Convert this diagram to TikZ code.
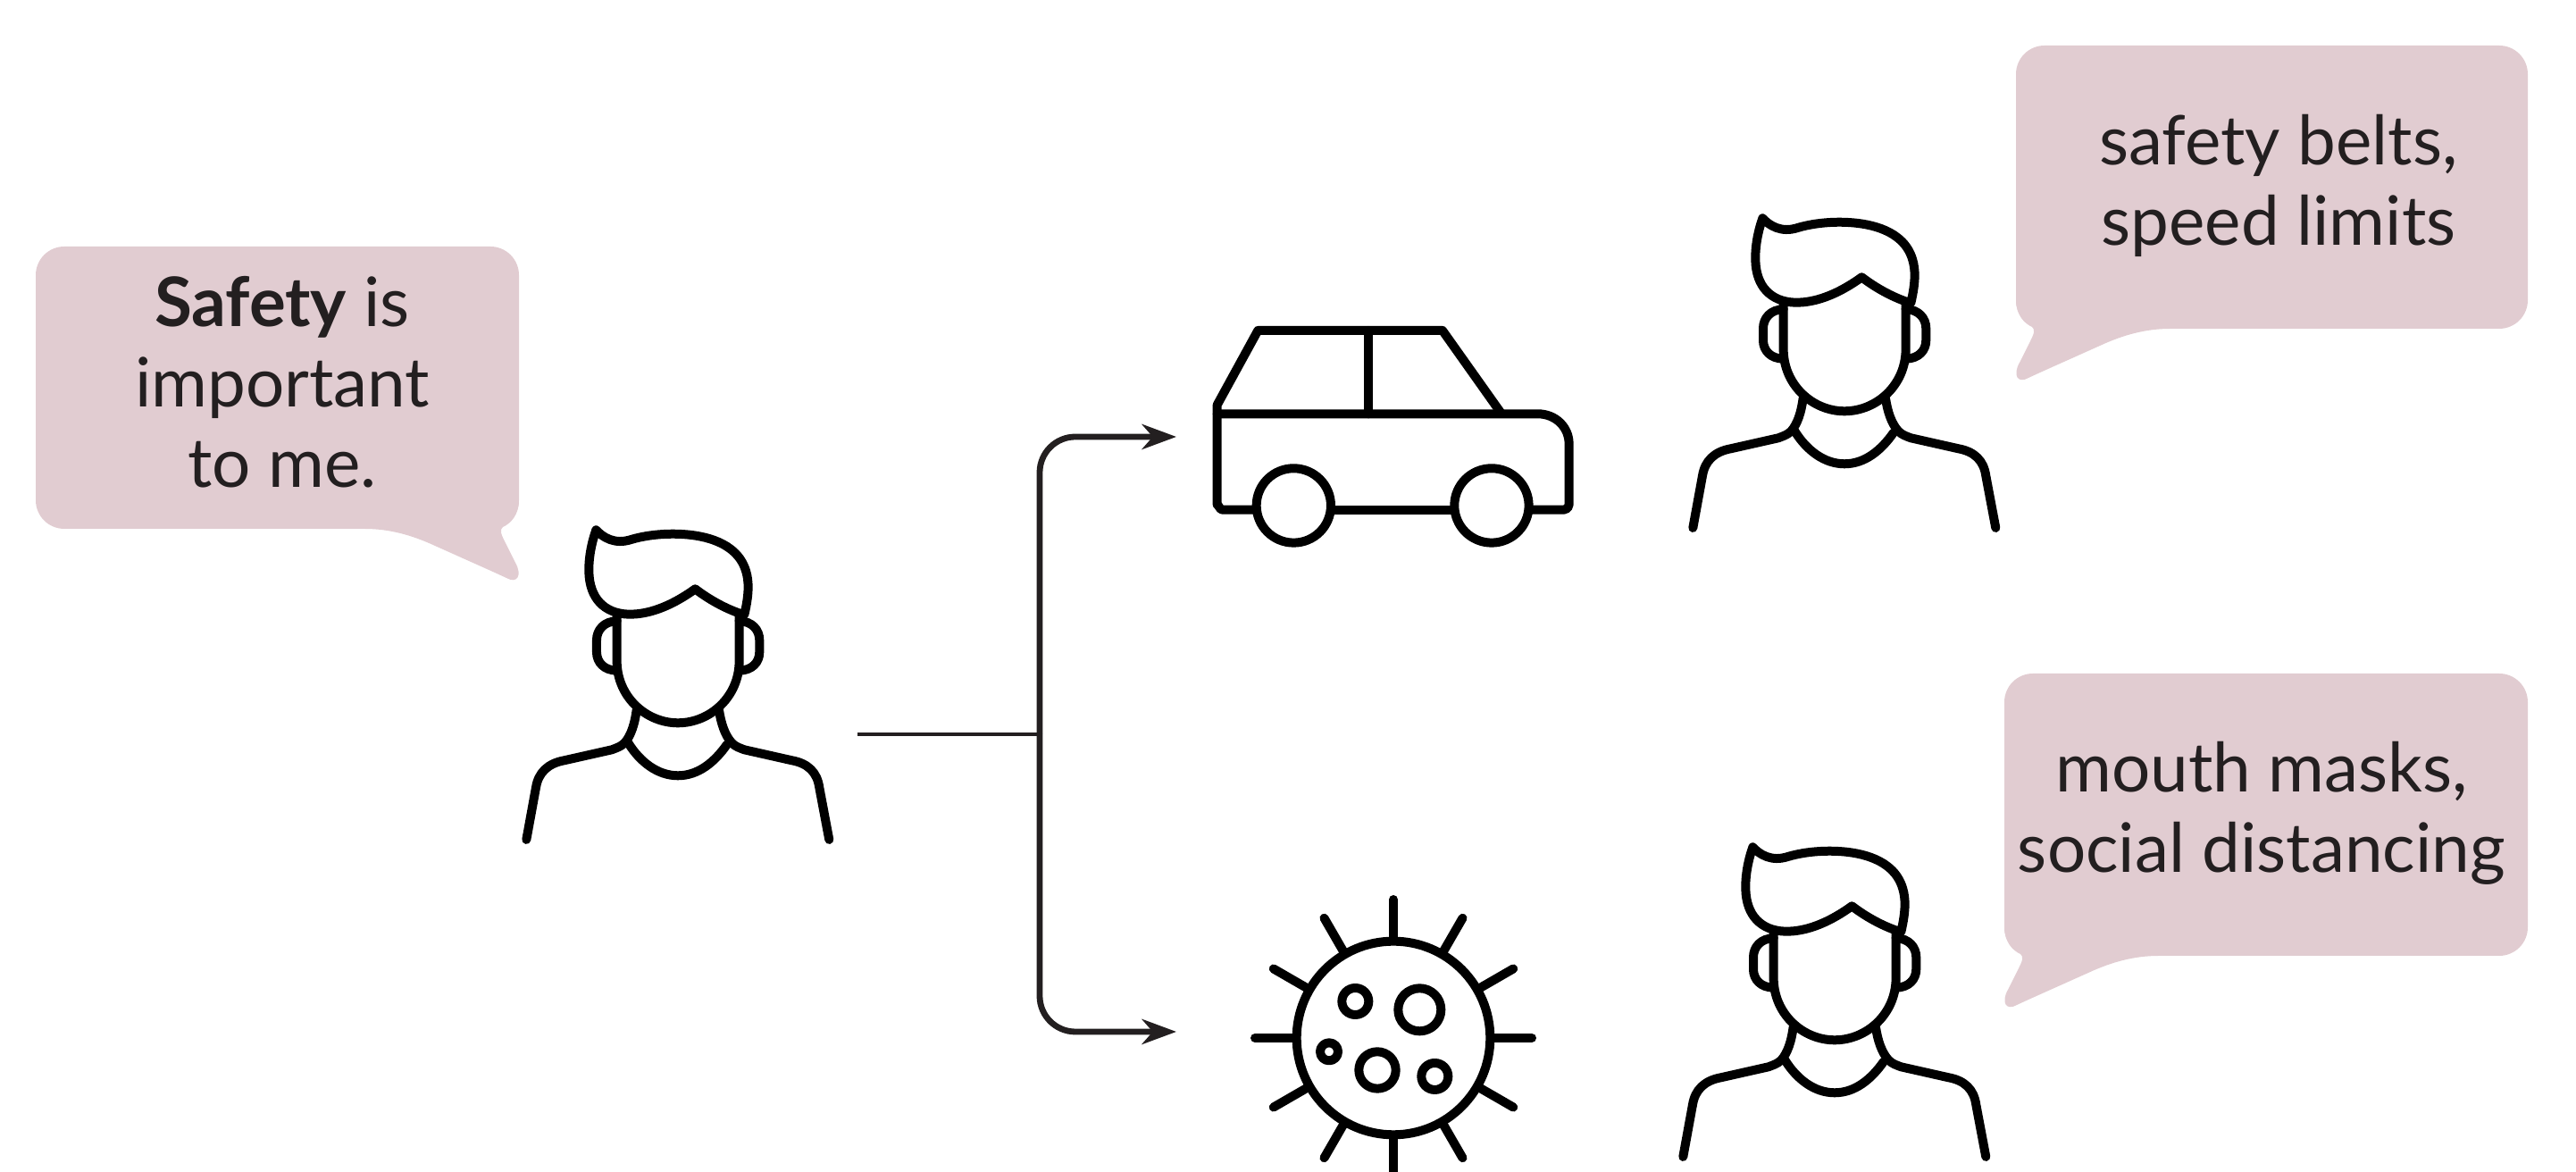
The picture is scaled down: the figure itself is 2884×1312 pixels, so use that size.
\documentclass[tikz,border=0pt]{standalone}
\usepackage{fontspec}
\setmainfont{Lato}
\usetikzlibrary{arrows.meta}
\definecolor{SayPink}{RGB}{225,204,209}
\definecolor{InkDark}{RGB}{35,31,32}
\tikzset{
  %% bubbles and their text
  saybox/.style={fill=SayPink,rounded corners=8pt},
  saytail/.style={fill=SayPink},
  saytext/.style={text=InkDark,font=\fontsize{19.1}{22.5}\selectfont,align=center,inner sep=0pt},
  %% icons
  iconline/.style={draw=black,line width=2.5pt,line cap=round,line join=round},
  %% arrows
  forkline/.style={draw=InkDark,line width=1.1pt},
  forkarr/.style={-{Stealth[length=9.6pt,width=7pt,inset=3pt]},draw=InkDark,
                  line width=1.7pt,rounded corners=10pt},
  person/.pic={
    \begin{scope}[scale=0.3333]
      %% hair
      \draw[iconline] (322,100) .. controls (345,125) and (385,150) .. (440,132)
        .. controls (520,108) and (640,105) .. (720,135)
        .. controls (800,165) and (832,220) .. (833,290)
        .. controls (833,320) and (828,350) .. (820,385)
        .. controls (770,370) and (710,340) .. (655,298)
        .. controls (590,345) and (510,385) .. (430,383)
        .. controls (350,380) and (300,330) .. (298,240)
        .. controls (297,190) and (308,140) .. (322,100) -- cycle;
      %% face
      \draw[iconline] (392,385) -- (392,540) .. controls (392,660) and (490,748) .. (597,748)
        .. controls (705,748) and (803,660) .. (803,540) -- (803,385);
      %% ears
      \draw[iconline] (392,406) .. controls (350,406) and (324,435) .. (324,470) -- (324,510)
        .. controls (324,545) and (350,572) .. (392,572);
      \draw[iconline] (803,406) .. controls (845,406) and (871,435) .. (871,470) -- (871,510)
        .. controls (871,545) and (845,572) .. (803,572);
      %% neck and shoulders
      \draw[iconline] (458,705) .. controls (452,750) and (440,790) .. (418,815)
        .. controls (405,828) and (390,832) .. (375,838) -- (215,874)
        .. controls (160,884) and (128,915) .. (120,965) -- (88,1140);
      \draw[iconline] (735,705) .. controls (742,750) and (755,790) .. (778,815)
        .. controls (790,828) and (805,832) .. (820,838) -- (980,874)
        .. controls (1035,884) and (1065,915) .. (1072,965) -- (1105,1140);
      \draw[iconline] (430,815) .. controls (470,880) and (530,925) .. (597,925)
        .. controls (665,925) and (720,880) .. (762,820);
    \end{scope}
  },
  car/.pic={
    \begin{scope}[scale=0.3333]
      \draw[iconline] (190,692) -- (85,692) to[out=180,in=90] (68,675) -- (68,340) -- (205,90) -- (825,90) -- (1020,365);
      \draw[iconline] (68,370) -- (1145,370) .. controls (1205,370) and (1250,415) .. (1250,470)
        -- (1250,675) to[out=-90,in=0] (1233,692) -- (1125,692);
      \draw[iconline] (577,90) -- (577,370);
      \draw[iconline] (460,692) -- (855,692);
      \draw[iconline] (325,678) circle (125);
      \draw[iconline] (990,678) circle (125);
    \end{scope}
  },
  virus/.pic={
    \begin{scope}[scale=0.3333]
      \draw[iconline] (0,0) circle (325);
      \foreach \ang in {0,30,...,330}
        \draw[iconline] (\ang:330) -- (\ang:465);
      \draw[iconline] (-128,-123) circle (45);
      \draw[iconline] (88,-95) circle (72);
      \draw[iconline] (-216,46) circle (30);
      \draw[iconline] (-54,108) circle (62);
      \draw[iconline] (139,129) circle (45);
    \end{scope}
  },
}
\newcommand{\saybubble}[6]{
  \fill[saybox] (#1,#2) rectangle (#3,#4);
  \fill[saytail,shift={(#5,#4)},xscale=#6] (0,-32) .. controls (0,-16) and (-9,-6) .. (-18,-2)
    .. controls (-22,1) and (-20,6) .. (-16,14) -- (-4,38)
    .. controls (4,52) and (-2,62) .. (-14,55) -- (-27,49) -- (-94,19)
    .. controls (-120,7) and (-145,0) .. (-173,0) -- cycle;
}
\begin{document}
\begin{tikzpicture}[x=0.25pt,y=-0.25pt]
    \clip (0,0) rectangle (2884,1312);

    %% bubbles
    \saybubble{40}{276}{581}{592}{581}{1}
    \saybubble{2257}{51}{2830}{368}{2257}{-1}
    \saybubble{2244}{754}{2830}{1070}{2244}{-1}
    \node[saytext] (SaySafety) at (316,428) {\textbf{Safety} is\\important\\to me.};
    \node[saytext] (SayBelts)  at (2551,208) {safety belts,\\speed limits};
    \node[saytext] (SayMasks)  at (2532,910) {mouth masks,\\social distancing};

    %% people
    \pic (PersonLeft)  at (560,560)  {person};
    \pic (PersonCar)   at (1866,211) {person};
    \pic (PersonVirus) at (1855,915) {person};

    %% icons
    \pic (CarIcon)   at (1340,340) {car};
    \pic (VirusIcon) at (1560,1162) {virus};

    %% fork
    \coordinate (ForkIn)  at (960,822);
    \coordinate (Fork)    at (1164,822);
    \coordinate (CarIn)   at (1317,489);
    \coordinate (VirusIn) at (1317,1155);
    \draw[forkline] (ForkIn) -- (Fork);
    \draw[forkarr] (Fork) |- (CarIn);
    \draw[forkarr] (Fork) |- (VirusIn);
\end{tikzpicture}
\end{document}
